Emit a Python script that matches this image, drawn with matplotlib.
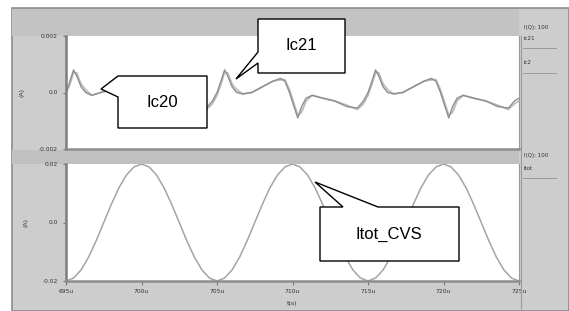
import numpy as np
import matplotlib
matplotlib.use("Agg")
import matplotlib.pyplot as plt
from matplotlib.patches import Polygon, Rectangle

# time axis (us) for the two collector currents
t_ic = [695.0, 695.2, 695.5, 695.7, 696.0, 696.3, 696.7, 697.3, 698.0, 698.7, 699.2, 699.5,
        699.8, 700.1, 700.35, 700.6, 700.9, 701.3, 702.0, 702.8, 703.6, 704.3, 704.7,
        705.0, 705.2, 705.5, 705.7, 706.0, 706.3, 706.7, 707.3, 708.0, 708.7, 709.2, 709.5,
        709.8, 710.1, 710.35, 710.6, 710.9, 711.3, 712.0, 712.8, 713.6, 714.3, 714.7,
        715.0, 715.2, 715.5, 715.7, 716.0, 716.3, 716.7, 717.3, 718.0, 718.7, 719.2, 719.5,
        719.8, 720.1, 720.35, 720.6, 720.9, 721.3, 722.0, 722.8, 723.6, 724.3, 724.7, 725.0]

ic20 = [0.0000, 0.0003, 0.0008, 0.0006, 0.0002, 0.0000, -0.0001, 0.0000, 0.0001, 0.0003, 0.0005, 0.0004,
        0.0000, -0.0005, -0.0009, -0.0005, -0.0002, -0.0001, -0.0002, -0.0003, -0.0005, -0.00055, -0.0003,
        0.0000, 0.0003, 0.0008, 0.0006, 0.0002, 0.0000, -0.00005, 0.0000, 0.0002, 0.0004, 0.0005, 0.0004,
        0.0000, -0.0005, -0.0009, -0.0005, -0.0002, -0.0001, -0.0002, -0.0003, -0.0005, -0.00055, -0.0003,
        0.0000, 0.0003, 0.0008, 0.0006, 0.0002, 0.0000, -0.00005, 0.0000, 0.0002, 0.0004, 0.0005, 0.0004,
        0.0000, -0.0005, -0.0009, -0.0005, -0.0002, -0.0001, -0.0002, -0.0003, -0.0005, -0.00055, -0.0003, -0.0002]

ic21 = [0.0000, 0.0002, 0.0007, 0.0007, 0.0003, 0.0001, -0.0001, 0.0000, 0.0001, 0.0003, 0.00045, 0.00045,
        0.0001, -0.0004, -0.0008, -0.0007, -0.0003, -0.0001, -0.0002, -0.0003, -0.00045, -0.0006, -0.0004,
        -0.0001, 0.0002, 0.0007, 0.0007, 0.0003, 0.0001, -0.00005, 0.0000, 0.0002, 0.0004, 0.00045, 0.00045,
        0.0001, -0.0004, -0.0008, -0.0007, -0.0003, -0.0001, -0.0002, -0.0003, -0.00045, -0.0006, -0.0004,
        -0.0001, 0.0002, 0.0007, 0.0007, 0.0003, 0.0001, -0.00005, 0.0000, 0.0002, 0.0004, 0.00045, 0.00045,
        0.0001, -0.0004, -0.0008, -0.0007, -0.0003, -0.0001, -0.0002, -0.0003, -0.00045, -0.0006, -0.0004, -0.0003]

# total current of the CVS, sampled every 0.5 us
t_tot = np.arange(695.0, 725.01, 0.5)
itot = [-0.0200, -0.0190, -0.0162, -0.0118, -0.0062, 0.0000, 0.0062, 0.0118, 0.0162, 0.0190,
        0.0200, 0.0190, 0.0162, 0.0118, 0.0062, 0.0000, -0.0062, -0.0118, -0.0162, -0.0190,
        -0.0200, -0.0190, -0.0162, -0.0118, -0.0062, 0.0000, 0.0062, 0.0118, 0.0162, 0.0190,
        0.0200, 0.0190, 0.0162, 0.0118, 0.0062, 0.0000, -0.0062, -0.0118, -0.0162, -0.0190,
        -0.0200, -0.0190, -0.0162, -0.0118, -0.0062, 0.0000, 0.0062, 0.0118, 0.0162, 0.0190,
        0.0200, 0.0190, 0.0162, 0.0118, 0.0062, 0.0000, -0.0062, -0.0118, -0.0162, -0.0190,
        -0.0200]

xticks = [695, 700, 705, 710, 715, 720, 725]
xtick_labels = ["695u", "700u", "705u", "710u", "715u", "720u", "725u"]
top_yticks = [-0.002, 0.0, 0.002]
top_ylabels = ["-0.002", "0.0", "0.002"]
bot_yticks = [-0.02, 0.0, 0.02]
bot_ylabels = ["-0.02", "0.0", "0.02"]

W, H = 569, 311
fig = plt.figure(figsize=(W / 100, H / 100), dpi=100)
fig.patch.set_facecolor("white")


def fx(x):
    return x / W


def fy(y):
    return 1 - y / H


def ax_rect(x0, y0, x1, y1):
    return [fx(x0), fy(y1), fx(x1) - fx(x0), fy(y0) - fy(y1)]


# gray simulator window
fig.add_artist(Rectangle((fx(12), fy(311)), fx(569) - fx(12), fy(8) - fy(311),
                         transform=fig.transFigure, facecolor="#cdcdcd",
                         edgecolor="#8c8c8c", lw=1.2, zorder=0))
fig.add_artist(Rectangle((fx(12), fy(36)), fx(519) - fx(12), fy(9) - fy(36),
                         transform=fig.transFigure, facecolor="#c3c3c3",
                         edgecolor="none", zorder=0))
fig.add_artist(Rectangle((fx(12), fy(164)), fx(519) - fx(12), fy(150) - fy(164),
                         transform=fig.transFigure, facecolor="#c0c0c0",
                         edgecolor="none", zorder=0))
fig.add_artist(plt.Line2D([fx(521), fx(521)], [fy(36), fy(311)], transform=fig.transFigure,
                          color="#9a9a9a", lw=0.8, zorder=1))

ax1 = fig.add_axes(ax_rect(66, 36, 519, 149))
ax2 = fig.add_axes(ax_rect(66, 164, 519, 281))

ax1.plot(t_ic, ic21, color="#bdbdbd", lw=1.3)
ax1.plot(t_ic, ic20, color="#8e8e8e", lw=1.0)
ax2.plot(t_tot, itot, color="#a4a4a4", lw=1.1)

small = dict(fontsize=4.3, color="#333333")
for ax, yt, yl, lim in [(ax1, top_yticks, top_ylabels, 0.002), (ax2, bot_yticks, bot_ylabels, 0.02)]:
    ax.set_xlim(695, 725)
    ax.set_ylim(-lim, lim)
    ax.set_facecolor("white")
    ax.set_yticks(yt)
    ax.set_yticklabels(yl, **small)
    ax.set_xticks(xticks)
    ax.tick_params(axis="y", length=2, width=0.8, color="#777777", pad=4)
    ax.tick_params(axis="x", length=3, width=0.8, color="#777777", pad=3)
    ax.spines["top"].set_visible(False)
    ax.spines["left"].set_color("#7d7d7d")
    ax.spines["left"].set_linewidth(1.8)
    ax.spines["bottom"].set_color("#8d8d8d")
    ax.spines["bottom"].set_linewidth(1.8)
    ax.spines["right"].set_color("#999999")
    ax.spines["right"].set_linewidth(0.8)
    ax.set_ylabel("(A)", fontsize=4.5, color="#333333", labelpad=10)

ax1.set_xticklabels([])
ax1.tick_params(axis="x", length=0)
ax2.set_xticklabels(xtick_labels, **small)
ax2.set_xlabel("t(s)", fontsize=4.5, color="#333333", labelpad=5)

# right-hand trace legend
leg = dict(fontsize=4.0, color="#333333", transform=fig.transFigure, va="center")
fig.text(fx(524), fy(27), "I(Q): 100", **leg)
fig.text(fx(524), fy(38), "ic21", **leg)
fig.text(fx(524), fy(62), "ic2", **leg)
fig.text(fx(524), fy(156), "I(Q): 100", **leg)
fig.text(fx(524), fy(169), "itot", **leg)
for y in (48, 73, 178):
    fig.add_artist(plt.Line2D([fx(523), fx(556)], [fy(y), fy(y)], transform=fig.transFigure,
                              color="#999999", lw=0.7))


def callout(pts, label, cx, cy):
    poly = Polygon([(fx(x), fy(y)) for x, y in pts], closed=True, transform=fig.transFigure,
                   facecolor="white", edgecolor="black", lw=1.0, zorder=5)
    fig.add_artist(poly)
    fig.text(fx(cx), fy(cy), label, transform=fig.transFigure, ha="center", va="center",
             fontsize=12, family="Liberation Sans", color="black", zorder=6)


callout([(118, 76), (207, 76), (207, 128), (118, 128), (118, 97), (101, 89)], "Ic20", 162, 102)
callout([(258, 19), (345, 19), (345, 73), (258, 73), (258, 63), (236, 79), (258, 52)], "Ic21", 301, 46)
callout([(320, 207), (343, 207), (315, 182), (378, 207), (459, 207), (459, 261), (320, 261)],
        "Itot_CVS", 389, 234)

fig.savefig("out.png", dpi=100)
